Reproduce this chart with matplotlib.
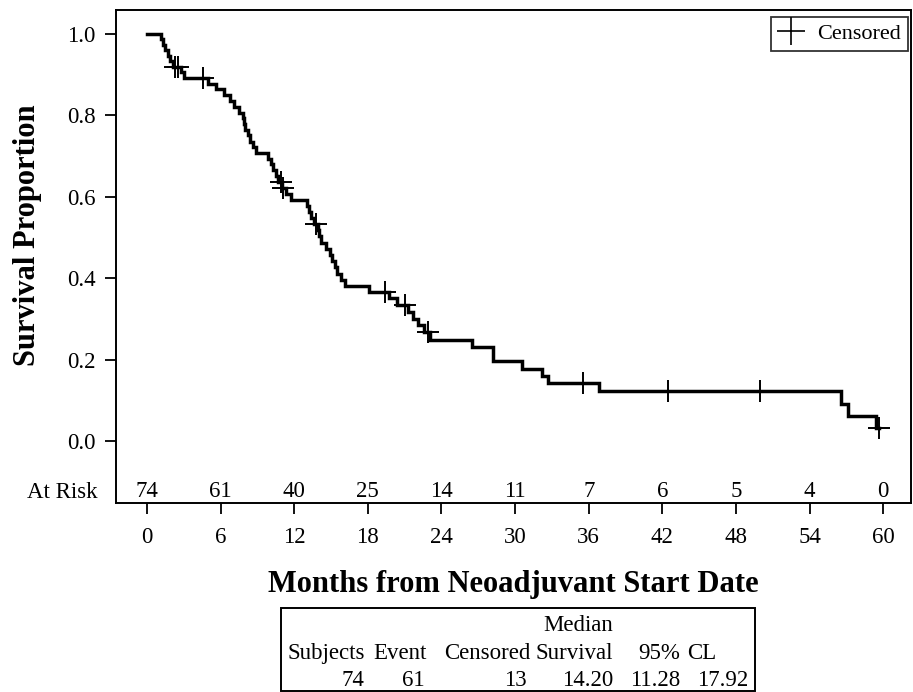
import matplotlib
matplotlib.use("Agg")
import matplotlib.pyplot as plt
from matplotlib.lines import Line2D
from matplotlib.patches import Rectangle

plt.rcParams['font.family'] = ['Liberation Serif', 'DejaVu Serif']

# ---- data ----
step_time = [0, 1.1, 1.3, 1.5, 1.7, 1.9, 2.1, 2.8, 3.0, 5.0, 5.6, 6.3, 6.8, 7.1, 7.5,
             7.8, 7.9, 8.0, 8.2, 8.4, 8.6, 8.9, 9.9, 10.1, 10.3, 10.5, 10.7, 11.0,
             11.3, 11.7, 13.0, 13.2, 13.4, 13.6, 13.9, 14.05, 14.2, 14.6, 14.9, 15.1,
             15.3, 15.5, 15.8, 16.1, 18.1, 19.7, 20.4, 21.3, 21.7, 22.1, 22.6, 23.1,
             26.5, 28.2, 30.6, 32.2, 32.7, 36.8, 56.6, 57.1, 59.4, 59.7]
step_surv = [1.000, 0.986, 0.973, 0.959, 0.946, 0.932, 0.919, 0.905, 0.891, 0.877,
             0.863, 0.849, 0.835, 0.820, 0.806, 0.792, 0.778, 0.764, 0.750, 0.735,
             0.721, 0.707, 0.693, 0.679, 0.665, 0.651, 0.636, 0.622, 0.607, 0.592,
             0.578, 0.563, 0.548, 0.533, 0.518, 0.503, 0.487, 0.472, 0.457, 0.442,
             0.427, 0.411, 0.396, 0.381, 0.366, 0.350, 0.334, 0.317, 0.300, 0.284,
             0.267, 0.249, 0.231, 0.196, 0.178, 0.160, 0.142, 0.122, 0.092, 0.061,
             0.031, 0.031]

cens_time = [2.3, 2.5, 4.6, 10.9, 11.1, 13.75, 19.4, 21.0, 22.9, 35.5, 42.5, 50.0, 59.7]
cens_surv = [0.919, 0.919, 0.891, 0.636, 0.622, 0.533, 0.366, 0.334, 0.267, 0.142,
             0.122, 0.122, 0.031]

risk_times = [0, 6, 12, 18, 24, 30, 36, 42, 48, 54, 60]
risk_counts = [74, 61, 40, 25, 14, 11, 7, 6, 5, 4, 0]

yticks = [0.0, 0.2, 0.4, 0.6, 0.8, 1.0]

summary_header = ["Subjects", "Event", "Censored", "Survival", "95%", "CL"]
summary_values = ["74", "61", "13", "14.20", "11.28", "17.92"]

# ---- figure ----
W, H = 913, 692
fig = plt.figure(figsize=(W / 100, H / 100), dpi=100)

def fx(px):
    return px / W

def fy(py):
    return 1 - py / H

ax_l, ax_r, ax_t, ax_b = 116, 911, 10, 503
ax = fig.add_axes([fx(ax_l), fy(ax_b), fx(ax_r - ax_l), (ax_b - ax_t) / H])

ax.step(step_time, step_surv, where='post', color='black', lw=2.5, solid_joinstyle='miter')
ax.plot(cens_time, cens_surv, linestyle='none', marker='+', color='black',
        markersize=16, markeredgewidth=1.4)

ax.set_xlim(-2.53, 62.27)
ax.set_ylim(-0.152, 1.058)
ax.set_xticks(risk_times)
ax.set_xticklabels([str(t) for t in risk_times])
ax.set_yticks(yticks)
ax.set_yticklabels([f"{v:.1f}" for v in yticks])
ax.tick_params(axis='both', direction='out', length=8, width=1.3, labelsize=16.5,
               colors='black')
ax.tick_params(axis='y', pad=6.5)
ax.tick_params(axis='x', pad=9)
for s in ax.spines.values():
    s.set_linewidth(1.4)
    s.set_color('black')

# at-risk row inside the axes
for t, n in zip(risk_times, risk_counts):
    ax.text(t, -0.125, str(n), ha='center', va='center', fontsize=16.5)
fig.text(fx(98), fy(492), "At Risk", ha='right', va='center', fontsize=16.5)

# legend
handle = Line2D([], [], linestyle='none', marker='+', color='black', markersize=20,
                markeredgewidth=1.2)
leg = ax.legend([handle], ["Censored"], loc='upper right',
                bbox_to_anchor=((908 - ax_l) / (ax_r - ax_l), (ax_b - 17) / (ax_b - ax_t)),
                borderaxespad=0, fontsize=16, frameon=True, fancybox=False,
                handlelength=1.2, handletextpad=0.6, borderpad=0.3)
leg.get_frame().set_edgecolor('black')
leg.get_frame().set_linewidth(1.3)

# axis titles
fig.text(fx(28), fy(235), "Survival Proportion", rotation=90, ha='center', va='center',
         fontsize=22, fontweight='bold')
fig.text(fx((ax_l + ax_r) / 2), fy(592), "Months from Neoadjuvant Start Date",
         ha='center', va='baseline', fontsize=22, fontweight='bold')

# summary table
fig.patches.append(Rectangle((fx(281), fy(691)), fx(755 - 281), (691 - 608) / H,
                             transform=fig.transFigure, fill=False, edgecolor='black',
                             linewidth=1.4))
fig.text(fx(613), fy(631), "Median", ha='right', va='baseline', fontsize=16.5)
head_right = [365, 427, 530, 613, 680]
for x, txt in zip(head_right, summary_header[:5]):
    fig.text(fx(x), fy(659), txt, ha='right', va='baseline', fontsize=16.5)
fig.text(fx(687), fy(659), summary_header[5], ha='left', va='baseline', fontsize=16.5)
val_right = [364, 425, 527, 613, 680, 748]
for x, txt in zip(val_right, summary_values):
    fig.text(fx(x), fy(686), txt, ha='right', va='baseline', fontsize=16.5)

fig.savefig("out.png", dpi=100, facecolor='white')
